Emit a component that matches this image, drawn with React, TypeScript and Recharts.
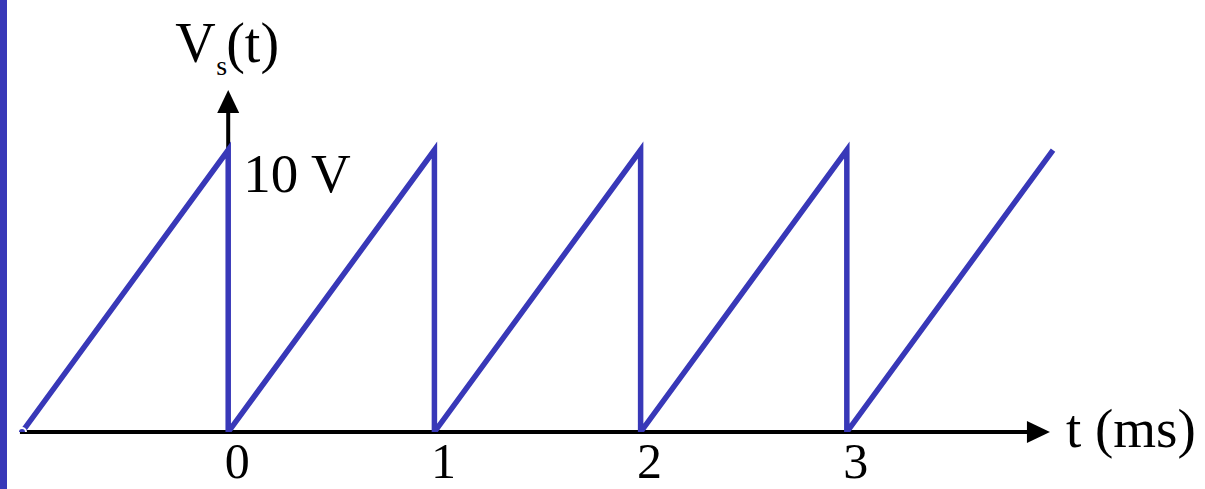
import React from "react";
import { LineChart, Line, XAxis, YAxis, ReferenceLine, ReferenceDot } from "recharts";

// Sawtooth source voltage Vs(t)
const timeMs = [-1, 0, 0, 1, 1, 2, 2, 3, 3, 4];
const voltage = [0, 10, 0, 10, 0, 10, 0, 10, 0, 10];
const xTicks = [0, 1, 2, 3];
const peakLabel = "10 V";
const yLabelMain = "V";
const yLabelSub = "s";
const yLabelTail = "(t)";
const xLabel = "t (ms)";

const data = timeMs.map((t, i) => ({ t, v: voltage[i] }));

const BLUE = "#3838b8";
const FONT = "'Liberation Serif', 'Times New Roman', serif";

const W = 1205;
const H = 489;

const xAxisShape = (p: any) => {
  const { x1, y1, x2 } = p;
  const tipX = x2;
  const baseX = x2 - 23;
  return (
    <g>
      <line x1={x1} y1={y1} x2={baseX + 2} y2={y1} stroke="#000" strokeWidth={4} />
      <polygon points={`${baseX},${y1 - 11} ${tipX},${y1} ${baseX},${y1 + 11}`} fill="#000" />
    </g>
  );
};

const yAxisShape = (p: any) => {
  const { x1, y1, y2 } = p;
  const top = Math.min(y1, y2);
  const bottom = Math.max(y1, y2);
  const baseY = top + 23;
  return (
    <g>
      <line x1={x1} y1={bottom} x2={x1} y2={baseY - 2} stroke="#000" strokeWidth={4} />
      <polygon points={`${x1 - 11},${baseY} ${x1},${top} ${x1 + 11},${baseY}`} fill="#000" />
    </g>
  );
};

const peakLabelShape = (p: any) => (
  <text x={p.cx + 15} y={p.cy + 42} fontFamily={FONT} fontSize={55} fill="#000">
    {peakLabel}
  </text>
);

const yLabelShape = (p: any) => (
  <g fontFamily={FONT} fill="#000">
    <text x={p.cx - 53} y={p.cy - 28} fontSize={56}>{yLabelMain}</text>
    <text x={p.cx - 12} y={p.cy - 15} fontSize={28}>{yLabelSub}</text>
    <text x={p.cx - 2} y={p.cy - 28} fontSize={56}>{yLabelTail}</text>
  </g>
);

const xLabelShape = (p: any) => (
  <text x={p.cx + 16} y={p.cy + 15} fontFamily={FONT} fontSize={55} fill="#000">
    {xLabel}
  </text>
);

const renderTick = (p: any) => (
  <text
    x={p.x + 9}
    y={478}
    textAnchor="middle"
    fontFamily={FONT}
    fontSize={50}
    fill="#000"
  >
    {p.payload.value}
  </text>
);

export default function App() {
  return (
    <div style={{ position: "fixed", left: 0, top: 0, width: W, height: H, background: "#fff" }}>
      <div style={{ position: "absolute", left: 0, top: 0, width: 7, height: H, background: BLUE }} />
      <div style={{ position: "absolute", left: 0, top: 0 }}>
        <LineChart width={W} height={H} data={data} margin={{ top: 0, right: 0, bottom: 0, left: 0 }}>
          <XAxis
            dataKey="t"
            type="number"
            domain={[-1.1067, 4.737]}
            ticks={xTicks}
            axisLine={false}
            tickLine={false}
            height={57}
            tick={renderTick}
            allowDataOverflow
          />
          <YAxis type="number" domain={[0, 15.32]} hide allowDataOverflow />
          <ReferenceLine
            segment={[{ x: -1.01, y: 0 }, { x: 3.985, y: 0 }]}
            shape={xAxisShape}
            ifOverflow="visible"
          />
          <ReferenceLine
            segment={[{ x: 0, y: 10 }, { x: 0, y: 12.13 }]}
            shape={yAxisShape}
            ifOverflow="visible"
          />
          <Line
            type="linear"
            dataKey="v"
            stroke={BLUE}
            strokeWidth={5.5}
            dot={false}
            isAnimationActive={false}
          />
          <ReferenceDot x={0} y={10} r={0} shape={peakLabelShape} ifOverflow="visible" />
          <ReferenceDot x={0} y={12.13} r={0} shape={yLabelShape} ifOverflow="visible" />
          <ReferenceDot x={3.985} y={0} r={0} shape={xLabelShape} ifOverflow="visible" />
        </LineChart>
      </div>
    </div>
  );
}
